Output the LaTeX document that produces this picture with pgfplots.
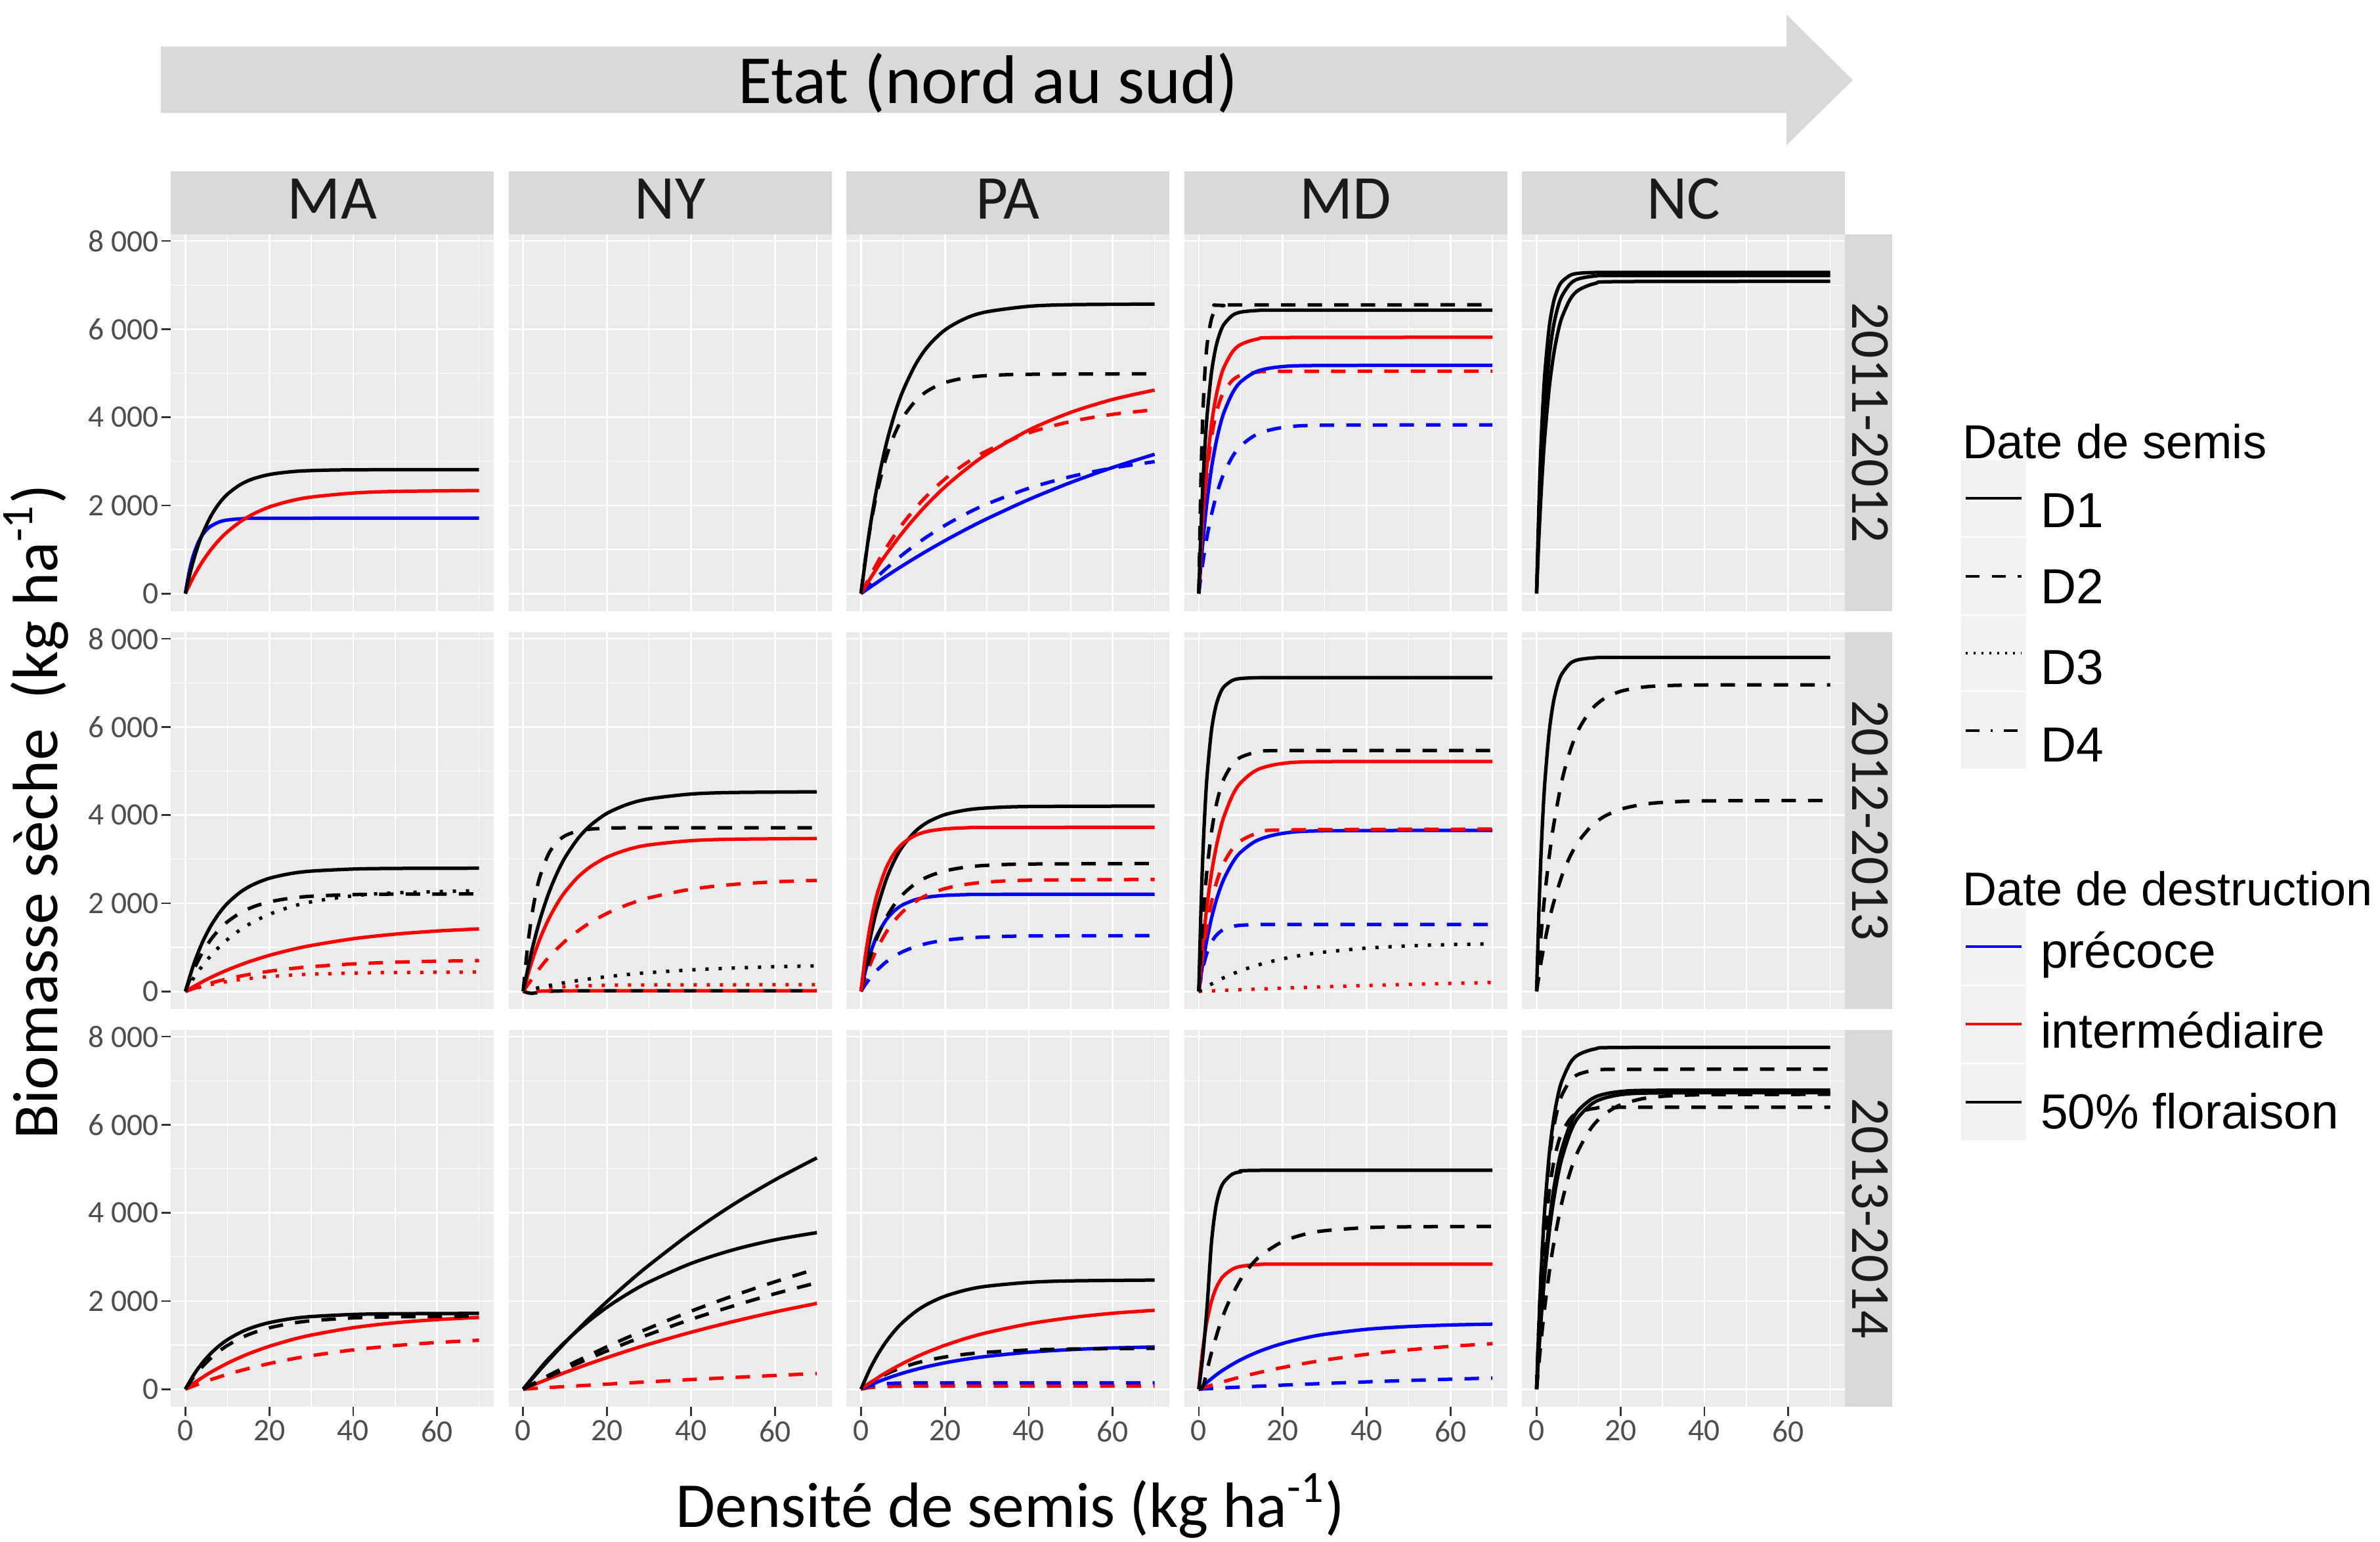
\documentclass[border=0pt]{standalone}
\usepackage{pgfplots}
\pgfplotsset{compat=1.18}
\usepackage{fontspec}
\setmainfont{Carlito}
\newfontfamily\legfont{Liberation Sans}
\definecolor{panelbg}{HTML}{EBEBEB}
\definecolor{stripbg}{HTML}{D9D9D9}
\definecolor{ticktext}{HTML}{4D4D4D}
\definecolor{tickmark}{HTML}{333333}
\definecolor{keybg}{HTML}{F2F2F2}
\definecolor{stripfg}{HTML}{1A1A1A}
\definecolor{pblue}{RGB}{0,0,255}
\definecolor{pred}{RGB}{255,0,0}
\tikzset{
 D2/.style={dash pattern=on 4.4pt off 3.7pt},
 D3/.style={dash pattern=on 1pt off 3pt},
 D4/.style={dash pattern=on 1pt off 3pt on 4.2pt off 3pt},
}
\pgfplotsset{
  panel/.style={
    scale only axis, width=98.4pt, height=114.8pt,
    anchor=south west,
    xmin=-3.5, xmax=73.5, ymin=-400, ymax=8150,
    axis background/.style={fill=panelbg},
    axis line style={draw=none},
    xtick={0,20,40,60}, ytick={0,2000,4000,6000,8000},
    minor xtick={10,30,50,70}, minor ytick={1000,3000,5000,7000},
    xmajorgrids, ymajorgrids, xminorgrids, yminorgrids,
    major grid style={white, line width=0.55pt},
    minor grid style={white, line width=0.27pt},
    tick align=outside, tick pos=left,
    major tick length=2.8pt, minor tick length=0pt,
    xticklabels={}, yticklabels={},
    xtick style={draw=none}, ytick style={draw=none},
  },
  ylab/.style={
    ytick style={draw=tickmark, line width=0.55pt},
    yticklabels={0,2 000,4 000,6 000,8 000},
    yticklabel style={font=\fontsize{9.5}{10}\selectfont, text=ticktext, inner sep=0.6pt},
  },
  xlab/.style={
    xtick style={draw=tickmark, line width=0.55pt},
    xticklabels={0,20,40,60},
    xticklabel style={font=\fontsize{9.5}{10}\selectfont, text=ticktext, inner sep=1.2pt},
  },
  c/.style={line width=1.05pt, smooth, tension=0.5, line join=round},
}
\begin{document}
\begin{tikzpicture}
\path[use as bounding box] (0,0) rectangle (725pt,469.6pt);
% top arrow
\fill[stripbg] (49pt,455.4pt) -- (544.2pt,455.4pt) -- (544.2pt,465.2pt) -- (564.4pt,445.2pt) -- (544.2pt,425.4pt) -- (544.2pt,435.2pt) -- (49pt,435.2pt) -- cycle;
\node[anchor=base, inner sep=0, font=\fontsize{21}{21}\selectfont] at (301pt,438pt) {Etat (nord au sud)};

% ================= ROW 1 (2011-2012) =================
\begin{axis}[panel, ylab, at={(52pt,283.4pt)}]
\addplot[c,pblue] coordinates {(0,0)(0.5,289)(1,530)(1.5,728)(2,895)(3,1147)(4,1321)(5,1441)(6,1525)(8,1622)(10,1668)(14,1700)(20,1709)(70,1710)};
\addplot[c,pred] coordinates {(0,0)(2,389)(4,714)(6,984)(8,1211)(10,1398)(13,1623)(16,1796)(20,1963)(25,2101)(30,2189)(40,2280)(50,2317)(70,2338)};
\addplot[c,black] coordinates {(0,0)(1,419)(2,776)(3,1080)(4,1336)(6,1743)(8,2039)(10,2252)(13,2466)(16,2599)(20,2700)(25,2762)(30,2790)(40,2807)(70,2812)};
\end{axis}
\begin{axis}[panel, at={(154.9pt,283.4pt)}]
\end{axis}
\begin{axis}[panel, at={(257.8pt,283.4pt)}]
\addplot[c,pblue] coordinates {(0,0)(5,328)(10,637)(15,927)(20,1199)(25,1455)(30,1695)(40,2133)(50,2520)(60,2860)(70,3160)};
\addplot[c,pblue,D2] coordinates {(0,0)(5,479)(10,889)(15,1241)(20,1545)(25,1806)(30,2030)(40,2388)(50,2653)(60,2849)(70,2992)};
\addplot[c,pred] coordinates {(0,0)(5,753)(10,1394)(15,1947)(20,2418)(25,2818)(30,3163)(40,3708)(50,4110)(60,4404)(70,4617)};
\addplot[c,pred,D2] coordinates {(0,0)(5,883)(10,1588)(15,2149)(20,2597)(25,2954)(30,3236)(40,3645)(50,3902)(60,4066)(70,4169)};
\addplot[c,black] coordinates {(0,0)(2,1406)(4,2510)(6,3384)(8,4067)(10,4599)(13,5197)(16,5614)(20,5980)(25,6247)(30,6393)(40,6517)(50,6554)(70,6569)};
\addplot[c,black,D2] coordinates {(0,0)(1,743)(2,1376)(3,1914)(4,2368)(6,3091)(8,3614)(10,3993)(13,4372)(16,4606)(20,4786)(25,4895)(30,4945)(40,4975)(70,4985)};
\end{axis}
\begin{axis}[panel, at={(360.7pt,283.4pt)}]
\addplot[c,pblue,D2] coordinates {(0,0)(0.5,379)(1,719)(1.5,1025)(2,1305)(3,1779)(4,2162)(5,2475)(6,2728)(8,3103)(10,3350)(14,3619)(20,3767)(30,3819)(70,3826)};
\addplot[c,pred,D2] coordinates {(0,0)(0.5,913)(1,1664)(1.5,2274)(2,2779)(3,3525)(4,4024)(5,4362)(6,4584)(8,4836)(10,4952)(14,5024)(20,5041)(70,5043)};
\addplot[c,pblue] coordinates {(0,0)(0.5,642)(1,1196)(1.5,1688)(2,2117)(3,2827)(4,3370)(5,3790)(6,4110)(8,4545)(10,4804)(14,5047)(20,5150)(30,5175)(70,5177)};
\addplot[c,pred] coordinates {(0,0)(0.5,953)(1,1744)(1.5,2413)(2,2965)(3,3820)(4,4419)(5,4837)(6,5134)(8,5480)(10,5651)(14,5775)(20,5809)(70,5814)};
\addplot[c,black] coordinates {(0,0)(0.5,1421)(1,2530)(1.5,3392)(2,4064)(3,4995)(4,5559)(5,5901)(6,6109)(8,6311)(10,6386)(14,6423)(20,6429)(70,6429)};
\addplot[c,black,D2] coordinates {(0,0)(0.5,2575)(1,4141)(1.5,5090)(2,5665)(3,6225)(4,6431)(5,6507)(6,6535)(8,6549)(70,6551)};
\end{axis}
\begin{axis}[panel, at={(463.6pt,283.4pt)}]
\addplot[c,black] coordinates {(0,0)(0.5,1858)(1,3243)(1.5,4270)(2,5039)(3,6041)(4,6595)(5,6902)(6,7073)(8,7221)(10,7267)(14,7285)(20,7287)(70,7287)};
\addplot[c,black] coordinates {(0,0)(0.5,1465)(1,2634)(1.5,3565)(2,4309)(3,5369)(4,6048)(5,6474)(6,6745)(8,7026)(10,7141)(14,7205)(20,7216)(70,7217)};
\addplot[c,black] coordinates {(0,0)(0.5,1162)(1,2125)(1.5,2940)(2,3613)(3,4654)(4,5384)(5,5894)(6,6255)(8,6677)(10,6885)(14,7037)(20,7078)(70,7084)};
\end{axis}

% ================= ROW 2 (2012-2013) =================
\begin{axis}[panel, ylab, at={(52pt,162.2pt)}]
\addplot[c,pred,D3] coordinates {(0,0)(5,132)(10,224)(15,289)(20,334)(25,366)(30,389)(40,415)(50,428)(60,434)(70,437)};
\addplot[c,pred,D2] coordinates {(0,0)(5,159)(10,283)(15,380)(20,455)(25,514)(30,559)(40,623)(50,661)(60,684)(70,698)};
\addplot[c,pred] coordinates {(0,0)(5,266)(10,485)(15,666)(20,816)(25,939)(30,1041)(40,1194)(50,1298)(60,1369)(70,1417)};
\addplot[c,black,D3] coordinates {(0,0)(2,306)(4,573)(6,803)(8,1001)(10,1173)(13,1392)(16,1566)(20,1748)(25,1914)(30,2031)(40,2168)(50,2235)(70,2285)};
\addplot[c,black,D2] coordinates {(0,0)(2,489)(4,870)(6,1166)(8,1397)(10,1577)(13,1775)(16,1911)(20,2029)(25,2113)(30,2158)(40,2195)(50,2206)(70,2210)};
\addplot[c,black] coordinates {(0,0)(2,618)(4,1099)(6,1474)(8,1766)(10,1994)(13,2244)(16,2416)(20,2565)(25,2671)(30,2728)(40,2775)(50,2789)(70,2794)};
\end{axis}
\begin{axis}[panel, at={(154.9pt,162.2pt)}]
\addplot[c,pred,D3] coordinates {(0,0)(2,33)(4,59)(6,79)(8,95)(10,107)(13,120)(16,130)(20,138)(30,146)(40,149)(70,150)};
\addplot[c,black,D2] coordinates {(0,0)(2,-45)(5,-5)(10,10)(20,15)(70,15)};
\addplot[c,pred,D2,dash phase=4pt] coordinates {(0,0)(5,5)(10,10)(20,15)(70,15)};
\addplot[c,black,D3] coordinates {(0,0)(5,109)(10,198)(15,272)(20,333)(25,383)(30,425)(40,487)(50,529)(60,558)(70,578)};
\addplot[c,pred,D2] coordinates {(0,0)(5,653)(10,1139)(15,1500)(20,1770)(25,1971)(30,2122)(40,2317)(50,2425)(60,2485)(70,2518)};
\addplot[c,pred] coordinates {(0,0)(2,659)(4,1194)(6,1624)(8,1974)(10,2259)(13,2587)(16,2826)(20,3047)(25,3220)(30,3323)(40,3419)(50,3452)(70,3468)};
\addplot[c,black,D2] coordinates {(0,0)(1,970)(2,1686)(3,2215)(4,2606)(6,3109)(8,3381)(10,3531)(13,3638)(16,3681)(20,3701)(25,3710)(70,3710)};
\addplot[c,black] coordinates {(0,0)(2,901)(4,1626)(6,2206)(8,2668)(10,3040)(13,3461)(16,3764)(20,4041)(25,4248)(30,4368)(40,4477)(50,4512)(70,4528)};
\end{axis}
\begin{axis}[panel, at={(257.8pt,162.2pt)}]
\addplot[c,pblue,D2] coordinates {(0,0)(1,149)(2,280)(3,395)(4,497)(6,667)(8,799)(10,902)(13,1015)(16,1093)(20,1160)(25,1208)(30,1234)(40,1256)(70,1264)};
\addplot[c,pblue] coordinates {(0,0)(1,438)(2,791)(3,1073)(4,1298)(6,1622)(8,1831)(10,1965)(13,2081)(16,2140)(20,2177)(25,2194)(30,2201)(70,2203)};
\addplot[c,pred,D2] coordinates {(0,0)(1,298)(2,562)(3,794)(4,999)(6,1340)(8,1605)(10,1812)(13,2039)(16,2195)(20,2331)(25,2427)(30,2479)(40,2522)(70,2539)};
\addplot[c,black,D2] coordinates {(0,0)(1,386)(2,722)(3,1012)(4,1261)(6,1669)(8,1974)(10,2203)(13,2447)(16,2604)(20,2733)(25,2818)(30,2859)(40,2889)(70,2899)};
\addplot[c,black] coordinates {(0,0)(1,601)(2,1114)(3,1555)(4,1931)(6,2534)(8,2976)(10,3300)(13,3634)(16,3844)(20,4010)(25,4113)(30,4161)(40,4194)(70,4203)};
\addplot[c,pred] coordinates {(0,0)(1,772)(2,1385)(3,1870)(4,2254)(6,2799)(8,3143)(10,3358)(13,3541)(16,3632)(20,3686)(25,3711)(30,3719)(70,3722)};
\end{axis}
\begin{axis}[panel, at={(360.7pt,162.2pt)}]
\addplot[c,pred,D3] coordinates {(0,0)(5,20)(10,38)(15,56)(20,73)(25,88)(30,104)(40,132)(50,157)(60,180)(70,201)};
\addplot[c,black,D3] coordinates {(0,0)(5,267)(10,469)(15,622)(20,738)(25,826)(30,892)(40,981)(50,1032)(60,1061)(70,1077)};
\addplot[c,pblue,D2] coordinates {(0,0)(0.5,296)(1,536)(1.5,728)(2,883)(3,1107)(4,1252)(5,1346)(6,1407)(8,1472)(10,1499)(14,1516)(20,1519)(70,1519)};
\addplot[c,pblue] coordinates {(0,0)(0.5,347)(1,661)(1.5,946)(2,1205)(3,1647)(4,2012)(5,2308)(6,2553)(8,2914)(10,3158)(14,3429)(20,3585)(30,3643)(70,3652)};
\addplot[c,pred,D2] coordinates {(0,0)(0.5,456)(1,850)(1.5,1200)(2,1506)(3,2010)(4,2396)(5,2694)(6,2923)(8,3232)(10,3416)(14,3589)(20,3662)(70,3681)};
\addplot[c,pred] coordinates {(0,0)(0.5,586)(1,1104)(1.5,1565)(2,1977)(3,2661)(4,3203)(5,3631)(6,3965)(8,4440)(10,4734)(14,5031)(20,5172)(30,5213)(70,5217)};
\addplot[c,black,D2] coordinates {(0,0)(0.5,897)(1,1640)(1.5,2269)(2,2788)(3,3592)(4,4155)(5,4549)(6,4827)(8,5153)(10,5313)(14,5430)(20,5463)(70,5467)};
\addplot[c,black] coordinates {(0,0)(0.5,1815)(1,3168)(1.5,4172)(2,4923)(3,5902)(4,6443)(5,6742)(6,6911)(8,7055)(10,7099)(14,7117)(20,7119)(70,7119)};
\end{axis}
\begin{axis}[panel, at={(463.6pt,162.2pt)}]
\addplot[c,black,D2] coordinates {(0,0)(1,619)(2,1147)(3,1602)(4,1990)(6,2611)(8,3066)(10,3399)(13,3744)(16,3961)(20,4131)(25,4237)(30,4287)(40,4321)(70,4330)};
\addplot[c,black,D2] coordinates {(0,0)(1,1217)(2,2219)(3,3047)(4,3733)(6,4765)(8,5460)(10,5940)(13,6386)(16,6636)(20,6807)(25,6899)(30,6934)(40,6953)(70,6956)};
\addplot[c,black] coordinates {(0,0)(0.5,1675)(1,2978)(1.5,4001)(2,4789)(3,5887)(4,6554)(5,6956)(6,7198)(8,7441)(10,7526)(14,7570)(20,7577)(70,7577)};
\end{axis}

% ================= ROW 3 (2013-2014) =================
\begin{axis}[panel, ylab, xlab, at={(52pt,41pt)}]
\addplot[c,pred,D2] coordinates {(0,0)(5,181)(10,335)(15,468)(20,581)(25,678)(30,760)(40,891)(50,988)(60,1059)(70,1110)};
\addplot[c,pred] coordinates {(0,0)(5,323)(10,587)(15,800)(20,972)(25,1113)(30,1227)(40,1395)(50,1506)(60,1579)(70,1627)};
\addplot[c,black,D2] coordinates {(0,0)(2,276)(4,506)(6,697)(8,858)(10,991)(13,1150)(16,1273)(20,1391)(25,1489)(30,1552)(40,1617)(50,1642)(70,1657)};
\addplot[c,black] coordinates {(0,0)(2,327)(4,592)(6,805)(8,979)(10,1120)(13,1282)(16,1401)(20,1510)(25,1596)(30,1647)(40,1695)(50,1711)(70,1719)};
\end{axis}
\begin{axis}[panel, xlab, at={(154.9pt,41pt)}]
\addplot[c,pred,D2] coordinates {(0,0)(5,30)(10,59)(15,87)(20,114)(25,141)(30,167)(40,218)(50,265)(60,311)(70,354)};
\addplot[c,pred] coordinates {(0,0)(5,194)(10,379)(15,553)(20,717)(25,874)(30,1021)(40,1291)(50,1533)(60,1752)(70,1946)};
\addplot[c,black,D2] coordinates {(0,0)(5,234)(10,457)(15,667)(20,869)(25,1061)(30,1243)(40,1584)(50,1886)(60,2165)(70,2414)};
\addplot[c,black,D2] coordinates {(0,0)(5,258)(10,504)(15,738)(20,964)(25,1179)(30,1386)(40,1769)(50,2117)(60,2436)(70,2732)};
\addplot[c,black] coordinates {(0,0)(5,580)(10,1072)(15,1496)(20,1860)(25,2168)(30,2432)(40,2852)(50,3160)(60,3388)(70,3552)};
\addplot[c,black] coordinates {(0,0)(5,545)(10,1058)(15,1539)(20,1991)(25,2416)(30,2814)(40,3542)(50,4185)(60,4748)(70,5248)};
\end{axis}
\begin{axis}[panel, xlab, at={(257.8pt,41pt)}]
\addplot[c,pred,D2] coordinates {(0,0)(1,20)(2,34)(3,44)(5,57)(8,65)(12,69)(20,70)(70,70)};
\addplot[c,pblue,D2] coordinates {(0,0)(1,41)(2,71)(3,92)(5,118)(8,135)(12,142)(20,145)(70,145)};
\addplot[c,pblue] coordinates {(0,0)(5,203)(10,365)(15,494)(20,597)(25,679)(30,744)(40,838)(50,897)(60,935)(70,958)};
\addplot[c,black,D2] coordinates {(0,0)(2,133)(4,246)(6,344)(8,427)(10,499)(13,588)(16,658)(20,730)(25,794)(30,837)(40,887)(50,910)(70,926)};
\addplot[c,pred] coordinates {(0,0)(5,320)(10,585)(15,809)(20,995)(25,1151)(30,1281)(40,1482)(50,1622)(60,1722)(70,1790)};
\addplot[c,black] coordinates {(0,0)(2,430)(4,785)(6,1078)(8,1321)(10,1521)(13,1759)(16,1938)(20,2109)(25,2249)(30,2336)(40,2423)(50,2457)(70,2475)};
\end{axis}
\begin{axis}[panel, xlab, at={(360.7pt,41pt)}]
\addplot[c,pblue,D2] coordinates {(0,0)(5,24)(10,48)(15,70)(20,91)(25,111)(30,130)(40,165)(50,197)(60,226)(70,252)};
\addplot[c,pred,D2] coordinates {(0,0)(5,147)(10,277)(15,391)(20,492)(25,581)(30,660)(40,790)(50,892)(60,971)(70,1033)};
\addplot[c,pblue] coordinates {(0,0)(5,383)(10,668)(15,879)(20,1037)(25,1155)(30,1244)(40,1358)(50,1421)(60,1456)(70,1476)};
\addplot[c,pred] coordinates {(0,0)(0.5,514)(1,936)(1.5,1279)(2,1563)(3,1983)(4,2264)(5,2454)(6,2579)(8,2721)(10,2786)(14,2827)(20,2836)(70,2837)};
\addplot[c,black,D2] coordinates {(0,0)(1,60)(2,434)(3,817)(5,1453)(7,1948)(10,2493)(12.5,2816)(15,3051)(20,3349)(25,3509)(30,3595)(40,3665)(50,3684)(70,3693)};
\addplot[c,black] coordinates {(0,0)(1,800)(2,1900)(3,3300)(4,4100)(5,4500)(6,4700)(8,4880)(10,4930)(15,4965)(70,4967)};
\end{axis}
\begin{axis}[panel, xlab, at={(463.6pt,41pt)}]
\addplot[c,black,D2] coordinates {(0,0)(1,1027)(2,1897)(3,2633)(4,3258)(6,4228)(8,4927)(10,5426)(13,5923)(16,6225)(20,6451)(25,6586)(30,6645)(40,6681)(70,6690)};
\addplot[c,black,D2] coordinates {(0,0)(0.5,1158)(1,2111)(1.5,2885)(2,3525)(3,4472)(4,5105)(5,5533)(6,5815)(8,6135)(10,6282)(14,6373)(20,6395)(70,6397)};
\addplot[c,black] coordinates {(0,0)(0.5,790)(1,1488)(1.5,2104)(2,2647)(3,3549)(4,4252)(5,4800)(6,5227)(8,5817)(10,6175)(14,6524)(20,6682)(30,6723)(70,6727)};
\addplot[c,black] coordinates {(0,0)(0.5,857)(1,1608)(1.5,2259)(2,2836)(3,3769)(4,4485)(5,5028)(6,5444)(8,6004)(10,6330)(14,6631)(20,6754)(30,6783)(70,6785)};
\addplot[c,black,D2] coordinates {(0,0)(0.5,1365)(1,2475)(1.5,3375)(2,4101)(3,5179)(4,5887)(5,6355)(6,6664)(8,7000)(10,7146)(14,7238)(20,7257)(70,7259)};
\addplot[c,black] coordinates {(0,0)(0.5,1357)(1,2474)(1.5,3398)(2,4162)(3,5314)(4,6089)(5,6624)(6,6985)(8,7400)(10,7591)(14,7721)(20,7753)(70,7757)};
\end{axis}

% ================= strips =================
\fill[stripbg] (52pt,398.2pt) rectangle (150.4pt,417.4pt);
\fill[stripbg] (154.9pt,398.2pt) rectangle (253.3pt,417.4pt);
\fill[stripbg] (257.8pt,398.2pt) rectangle (356.2pt,417.4pt);
\fill[stripbg] (360.7pt,398.2pt) rectangle (459.1pt,417.4pt);
\fill[stripbg] (463.6pt,398.2pt) rectangle (562pt,417.4pt);
\begin{scope}[every node/.style={inner sep=0, text=stripfg, font=\fontsize{19}{19}\selectfont}]
\node at (101.2pt,409pt) {MA};
\node at (204.1pt,409pt) {NY};
\node at (307pt,409pt) {PA};
\node at (409.9pt,409pt) {MD};
\node at (512.8pt,409pt) {NC};
\end{scope}
\fill[stripbg] (562pt,283.4pt) rectangle (576.4pt,398.2pt);
\fill[stripbg] (562pt,162.2pt) rectangle (576.4pt,277pt);
\fill[stripbg] (562pt,41pt) rectangle (576.4pt,155.8pt);
\begin{scope}[every node/.style={inner sep=0, text=stripfg, rotate=-90, font=\fontsize{16.8}{17}\selectfont}]
\node at (569.6pt,340.8pt) {2011-2012};
\node at (569.6pt,219.6pt) {2012-2013};
\node at (569.6pt,98.4pt) {2013-2014};
\end{scope}

% ================= axis titles =================
\node[anchor=base, inner sep=0, font=\fontsize{19.5}{20}\selectfont] at (307.8pt,4.4pt) {Densité de semis (kg ha\textsuperscript{-1})};
\node[anchor=base, rotate=90, inner sep=0, font=\fontsize{19.5}{20}\selectfont] at (17.4pt,222.2pt) {Biomasse sèche\ \ (kg ha\textsuperscript{-1})};

% ================= legend =================
\begin{scope}[every node/.style={inner sep=0, anchor=base west, font=\legfont\fontsize{15}{15}\selectfont}]
\node[font=\legfont\fontsize{14.5}{15}\selectfont] at (597.6pt,330pt) {Date de semis};
\fill[keybg, draw=white, line width=0.4pt] (597.2pt,306pt) rectangle (617.4pt,329.6pt);
\fill[keybg, draw=white, line width=0.4pt] (597.2pt,282.2pt) rectangle (617.4pt,306pt);
\fill[keybg, draw=white, line width=0.4pt] (597.2pt,259pt) rectangle (617.4pt,282.2pt);
\fill[keybg, draw=white, line width=0.4pt] (597.2pt,235.2pt) rectangle (617.4pt,259pt);
\draw[black, line width=0.8pt] (598.8pt,317.8pt) -- (615.8pt,317.8pt);
\draw[black, line width=0.8pt, dash pattern=on 4.2pt off 3.7pt] (598.8pt,294pt) -- (615.8pt,294pt);
\draw[black, line width=0.8pt, dash pattern=on 0.6pt off 1.8pt] (598.8pt,270.6pt) -- (615.8pt,270.6pt);
\draw[black, line width=0.8pt, dash pattern=on 4.2pt off 3.3pt on 0.7pt off 3.3pt] (598.8pt,247pt) -- (615.8pt,247pt);
\node at (621.4pt,309pt) {D1};
\node at (621.4pt,285.7pt) {D2};
\node at (621.4pt,261.2pt) {D3};
\node at (621.4pt,237.5pt) {D4};
\node[font=\legfont\fontsize{14.4}{15}\selectfont] at (597.6pt,193.8pt) {Date de destruction};
\fill[keybg, draw=white, line width=0.4pt] (597.2pt,169.4pt) rectangle (617.4pt,193.1pt);
\fill[keybg, draw=white, line width=0.4pt] (597.2pt,145.7pt) rectangle (617.4pt,169.4pt);
\fill[keybg, draw=white, line width=0.4pt] (597.2pt,122pt) rectangle (617.4pt,145.7pt);
\draw[pblue, line width=0.8pt] (598.8pt,181.25pt) -- (615.8pt,181.25pt);
\draw[pred, line width=0.8pt] (598.8pt,157.55pt) -- (615.8pt,157.55pt);
\draw[black, line width=0.8pt] (598.8pt,133.85pt) -- (615.8pt,133.85pt);
\node at (621.4pt,174.8pt) {précoce};
\node at (621.4pt,150.3pt) {intermédiaire};
\node at (621.4pt,125.8pt) {50\% floraison};
\end{scope}
\end{tikzpicture}
\end{document}
